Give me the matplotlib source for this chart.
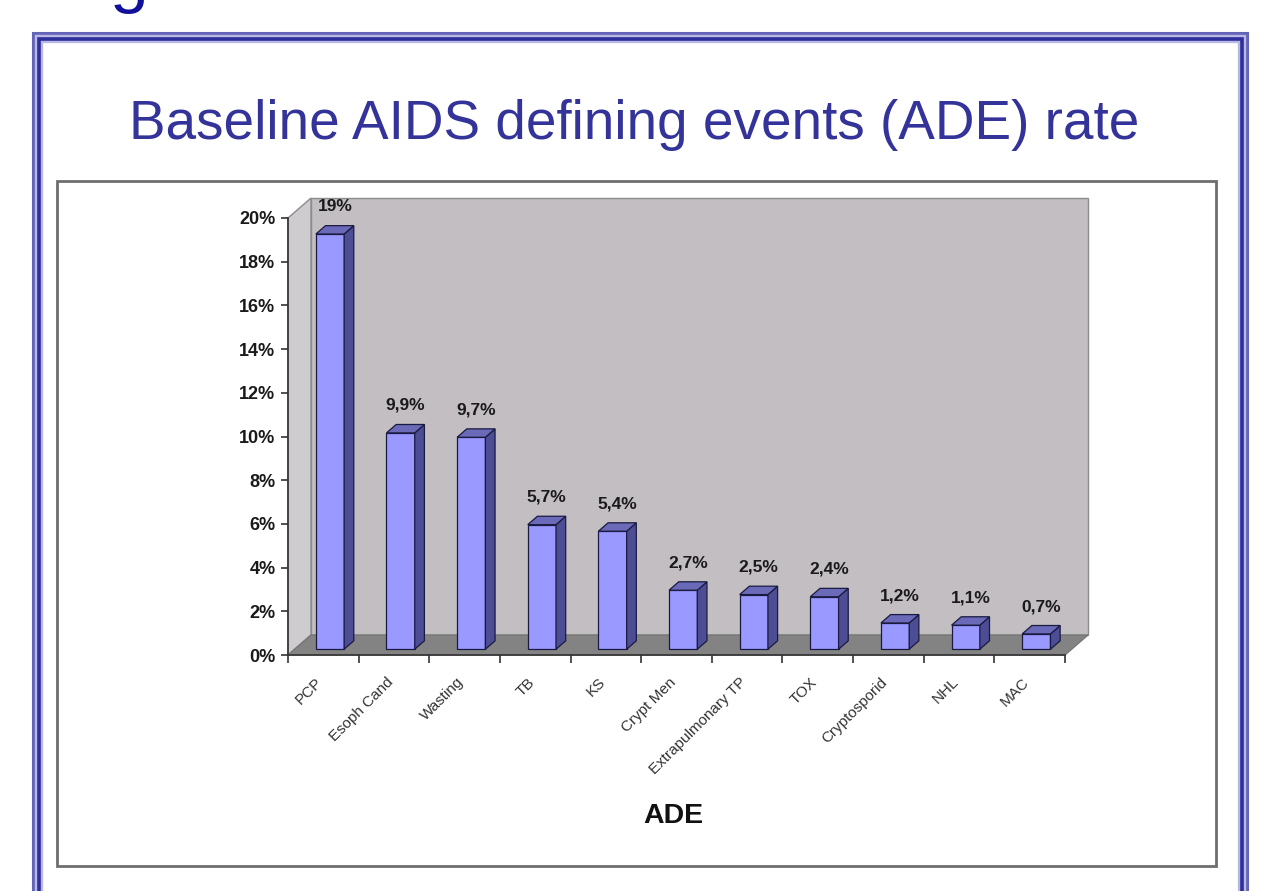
import matplotlib
matplotlib.use("Agg")
import matplotlib.pyplot as plt
from matplotlib.patches import Polygon, Rectangle
from matplotlib.transforms import offset_copy
from matplotlib import font_manager as fm

# ---- data ----
categories = ["PCP", "Esoph Cand", "Wasting", "TB", "KS", "Crypt Men",
              "Extrapulmonary TP", "TOX", "Cryptosporid", "NHL", "MAC"]
values = [19, 9.9, 9.7, 5.7, 5.4, 2.7, 2.5, 2.4, 1.2, 1.1, 0.7]
value_labels = ["19%", "9,9%", "9,7%", "5,7%", "5,4%", "2,7%", "2,5%",
                "2,4%", "1,2%", "1,1%", "0,7%"]
yticks = [0, 2, 4, 6, 8, 10, 12, 14, 16, 18, 20]
ytick_labels = [f"{t}%" for t in yticks]
title = "Baseline AIDS defining events (ADE) rate"
xlabel = "ADE"

names = {f.name for f in fm.fontManager.ttflist}
SANS = "Liberation Sans" if "Liberation Sans" in names else "DejaVu Sans"
NARROW = "Liberation Sans Narrow" if "Liberation Sans Narrow" in names else SANS
ADE_SIZE = 24 if NARROW != SANS else 20.5

W, H = 1268, 891
fig = plt.figure(figsize=(W / 100, H / 100), dpi=100)
fig.patch.set_facecolor("white")

# ---- slide decoration (pixel space) ----
bg = fig.add_axes([0, 0, 1, 1])
bg.set_xlim(0, W)
bg.set_ylim(H, 0)
bg.axis("off")
bg.plot([33, 33, 1247, 1247], [H + 10, 33, 33, H + 10], color="#6464B8", lw=2.2,
        solid_joinstyle="miter")
bg.plot([39, 39, 1241.5, 1241.5], [H + 10, 39, 39, H + 10], color="#B8B8E2", lw=6,
        solid_joinstyle="miter")
bg.plot([39, 39, 1241.5, 1241.5], [H + 10, 39, 39, H + 10], color="#2E2E9C", lw=2.6,
        solid_joinstyle="miter")
bg.add_patch(Rectangle((57, 181), 1159, 685, facecolor="white",
                       edgecolor="#6E6E6E", lw=2))
bg.text(109, 0, "g", fontsize=50, family=SANS, color="#10109A",
        ha="left", va="baseline")
bg.text(634, 139, title, fontsize=39.5, family=SANS, color="#333399",
        ha="center", va="baseline")
bg.text(673, 823, xlabel, fontsize=ADE_SIZE, family=NARROW, fontweight="bold",
        color="#111111", ha="center", va="baseline")

# ---- chart axes ----
x0, x1, y0, y1 = 288, 1065, 655, 218
ax = fig.add_axes([x0 / W, (H - y0) / H, (x1 - x0) / W, (y0 - y1) / H])
n = len(categories)
ax.set_xlim(0, n)
ax.set_ylim(0, 20)
ax.patch.set_alpha(0)

DX, DY = 23.0, 20.0  # depth offset in pixels


def P(x, y, d):
    px, py = ax.transData.transform((x, y))
    return ax.transData.inverted().transform((px + d * DX, py + d * DY))


def poly(pts, **kw):
    ax.add_patch(Polygon([P(*p) for p in pts], closed=True, clip_on=False, **kw))


wall_ec = "#8C8C8C"
# back wall
poly([(0, 0, 1), (n, 0, 1), (n, 20, 1), (0, 20, 1)], facecolor="#C2BEC2",
     edgecolor=wall_ec, lw=1, zorder=0.5)
# left side wall
poly([(0, 0, 0), (0, 0, 1), (0, 20, 1), (0, 20, 0)], facecolor="#CFCCCF",
     edgecolor=wall_ec, lw=1, zorder=0.6)
# floor
poly([(0, 0, 0), (n, 0, 0), (n, 0, 1), (0, 0, 1)], facecolor="#838383",
     edgecolor="#777777", lw=1, zorder=0.7)

# bars
d0, d1 = 0.29, 0.71
hw = 0.2
centers = [i + 0.5 for i in range(n)]
front_tr = offset_copy(ax.transData, fig=fig, x=d0 * DX, y=d0 * DY, units="dots")
ax.bar(centers, values, width=2 * hw, color="#9999FF", edgecolor="#1A1A40",
       lw=0.9, transform=front_tr, clip_on=False, zorder=2)
for c, v in zip(centers, values):
    poly([(c + hw, 0, d0), (c + hw, 0, d1), (c + hw, v, d1), (c + hw, v, d0)],
         facecolor="#4D4D96", edgecolor="#1A1A40", lw=0.9, zorder=2)
    poly([(c - hw, v, d0), (c + hw, v, d0), (c + hw, v, d1), (c - hw, v, d1)],
         facecolor="#6A6AB8", edgecolor="#1A1A40", lw=0.9, zorder=2)

# value labels
lab_tr = offset_copy(ax.transData, fig=fig, x=0.5 * DX, y=d1 * DY + 19, units="dots")
for c, v, s in zip(centers, values, value_labels):
    ax.text(c, v, s, transform=lab_tr, ha="center", va="center", fontsize=12.5,
            fontweight="bold", family=SANS, color="#1A1A1A", zorder=3)

# category labels
cat_tr = offset_copy(ax.transData, fig=fig, x=-3, y=-25, units="dots")
for c, s in zip(centers, categories):
    ax.text(c, 0, s, transform=cat_tr, rotation=45, rotation_mode="anchor",
            ha="right", va="center", fontsize=11, family=SANS, color="#333333")

# axes styling
for side in ("top", "right"):
    ax.spines[side].set_visible(False)
for side in ("left", "bottom"):
    ax.spines[side].set_color("#333333")
    ax.spines[side].set_linewidth(1.2)
    ax.spines[side].set_zorder(4)
ax.set_yticks(yticks)
ax.set_yticklabels(ytick_labels, fontsize=13, fontweight="bold", family=SANS,
                   color="#1A1A1A")
ax.set_xticks(range(n + 1))
ax.set_xticklabels([])
ax.tick_params(axis="y", direction="out", length=5, width=1.2, color="#333333", pad=4)
ax.tick_params(axis="x", direction="out", length=6, width=1.2, color="#333333")

fig.savefig("out.png", dpi=100, facecolor="white")
